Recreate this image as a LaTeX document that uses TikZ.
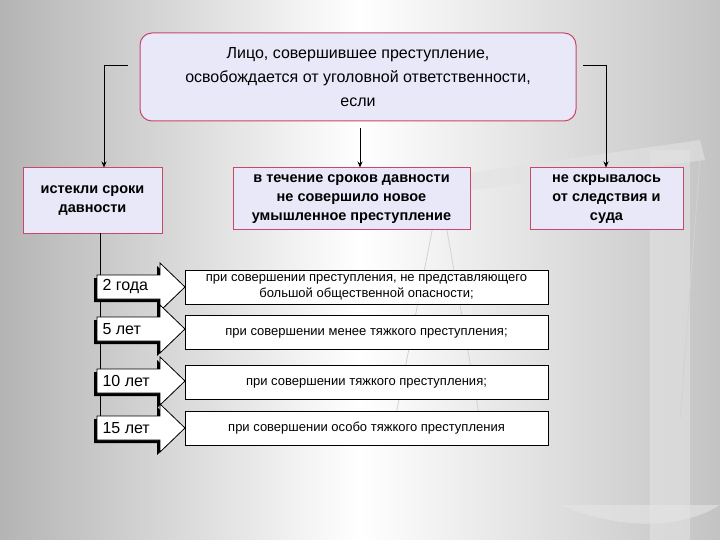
\documentclass[tikz,border=0pt]{standalone}
\usepackage{fontspec}
\setmainfont{Liberation Sans}
\usetikzlibrary{arrows.meta}
\definecolor{lav}{HTML}{E8E8F8}
\definecolor{bord}{HTML}{C8486A}
\definecolor{bgg}{HTML}{B4B4B4}
\tikzset{
 topbox/.style={draw=bord,fill=lav,line width=1pt,rounded corners=12pt,minimum width=436pt,minimum height=88pt,align=center,font=\fontsize{16}{24}\selectfont},
 catbox/.style={draw=bord,fill=lav,line width=1pt,align=center,font=\bfseries\fontsize{14.5}{19}\selectfont},
 rowbox/.style={draw=black,fill=white,line width=0.6pt,minimum width=363pt,minimum height=34pt,align=center,font=\fontsize{13}{16}\selectfont},
 conn/.style={line width=0.8pt,-{Stealth[length=6pt,width=5pt]}},
 yrs/.style={font=\fontsize{16}{18}\selectfont,anchor=west}
}
\newcommand{\blockarr}[3]{% y, name, text
 \fill[black] (94,#1-12+3) -- (157,#1-12+3) -- (157,#1-24+3) -- (182,#1+3) -- (157,#1+24+3) -- (157,#1+12+3) -- (94,#1+12+3) -- cycle;
 \draw[fill=white,line width=0.8pt] (97,#1-12) -- (160,#1-12) -- (160,#1-24) -- (185,#1) -- (160,#1+24) -- (160,#1+12) -- (97,#1+12) -- cycle;
 \node[yrs] (#2) at (99,#1) {#3};
}
\begin{document}
\begin{tikzpicture}[x=1pt,y=-1pt]
\useasboundingbox (0,0) rectangle (720,540);
\shade[left color=bgg,right color=bgg!80,middle color=white] (0,0) rectangle (720,540);
% faint scales
\fill[gray!22,opacity=0.6] (420,180) -- (700,140) -- (705,160) -- (425,196) -- cycle;
\fill[gray!22,opacity=0.6] (650,150) rectangle (690,540);
\draw[gray!35,line width=0.8pt] (440,190) -- (395,420) (440,190) -- (480,420);
\fill[gray!20,opacity=0.6] (370,420) .. controls (420,445) and (470,445) .. (510,420) -- cycle;
\draw[gray!35,line width=0.8pt] (700,160) -- (680,420);
\fill[gray!20,opacity=0.6] (560,505) .. controls (620,530) and (680,530) .. (720,505) -- cycle;

\node[topbox] (top) at (358,77) {Лицо, совершившее преступление,\\освобождается от уголовной ответственности,\\если};
\node[catbox,minimum width=139pt,minimum height=65pt] (c1) at (92.5,200.5) {истекли сроки\\давности};
\node[catbox,minimum width=237pt,minimum height=62pt] (c2) at (351.5,199) {в течение сроков давности\\не совершило новое\\умышленное преступление};
\node[catbox,minimum width=153pt,minimum height=62pt] (c3) at (606.5,199) {не скрывалось\\от следствия и\\суда};

\coordinate (l1) at (104,65);
\coordinate (r1) at (606,65);
\draw[line width=0.8pt] (l1) -- (128,65);
\draw[conn] (l1) -- (c1.north -| l1);
\draw[line width=0.8pt] (r1) -- (583,65);
\draw[conn] (r1) -- (c3.north -| r1);
\draw[conn] (360,128) -- (c2.north -| 360,0);

\coordinate (v0) at (100,233);
\coordinate (v1) at (100,432);
\draw[line width=0.8pt] (v0) -- (v1);

\node[rowbox] (t1) at (366.5,287) {при совершении преступления, не представляющего\\большой общественной опасности;};
\node[rowbox] (t2) at (366.5,332) {\strut при совершении менее тяжкого преступления;};
\node[rowbox] (t3) at (366.5,382.5) {\strut при совершении тяжкого преступления;};
\node[rowbox] (t4) at (366.5,428.5) {\strut при совершении особо тяжкого преступления};

\blockarr{287}{a1}{2 года}
\blockarr{329}{a2}{5 лет}
\blockarr{381}{a3}{10 лет}
\blockarr{428}{a4}{15 лет}
\end{tikzpicture}
\end{document}
